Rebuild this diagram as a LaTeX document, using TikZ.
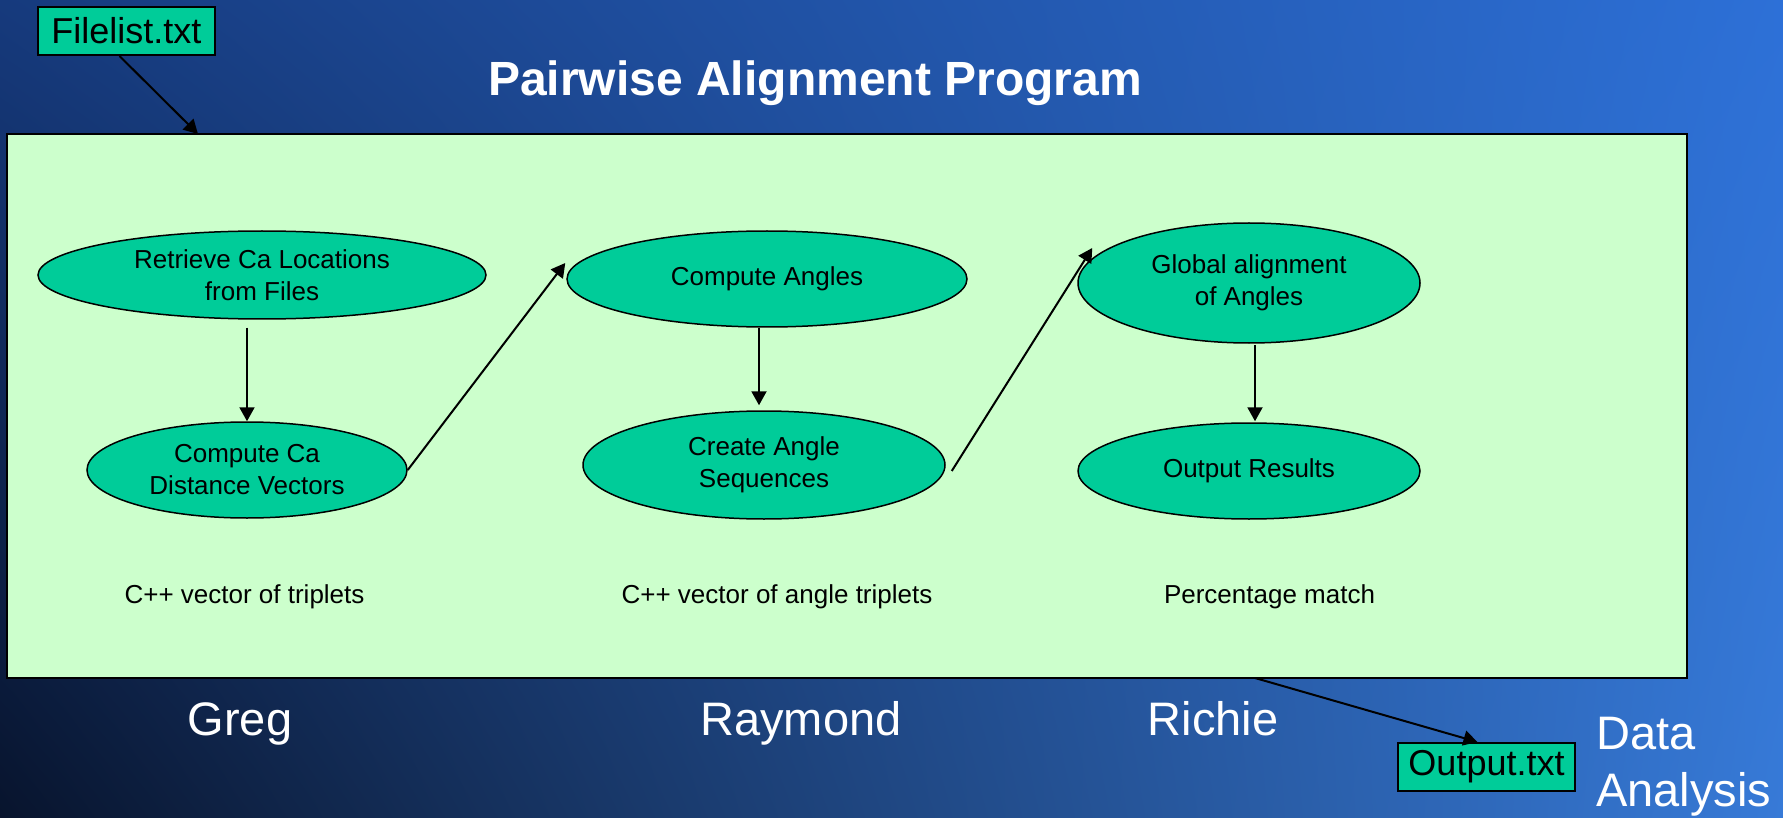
\documentclass[tikz,border=0pt]{standalone}
\usepackage{fontspec}
\setmainfont{Liberation Sans}
\usetikzlibrary{arrows.meta,shapes.geometric,calc,shadings}
\definecolor{nodegreen}{HTML}{00CC99}
\definecolor{panelgreen}{HTML}{CCFFCC}
\definecolor{bgUL}{RGB}{22,58,125}
\definecolor{bgUR}{RGB}{45,112,215}
\definecolor{bgLL}{RGB}{8,20,45}
\definecolor{bgLR}{RGB}{55,122,215}
\begin{document}
\begin{tikzpicture}[x=1pt,y=-1pt,
  proc/.style={ellipse,draw=black,line width=1.5pt,fill=nodegreen,inner sep=0pt,align=center,font=\fontsize{26}{32}\selectfont},
  filebox/.style={rectangle,draw=black,line width=2pt,fill=nodegreen,inner sep=0pt,minimum width=177,minimum height=48,font=\fontsize{36}{40}\selectfont},
  arr/.style={line width=2pt,-{Triangle[length=14pt,width=15pt]}},
  smalllabel/.style={anchor=base,font=\fontsize{26}{32}\selectfont},
  person/.style={anchor=base,text=white,font=\fontsize{47}{57}\selectfont}
]
\useasboundingbox (0,0) rectangle (1783,818);
\shade[upper left=bgUL,upper right=bgUR,lower left=bgLL,lower right=bgLR] (0,0) rectangle (1783,818);

% title
\node[anchor=base,text=white,font=\fontsize{48}{56}\selectfont\bfseries] (title) at (815,96) {Pairwise Alignment Program};

% main panel
\node[rectangle,draw=black,line width=2.5pt,fill=panelgreen,inner sep=0pt,minimum width=1680,minimum height=544] (panel) at (847,406) {};

% files
\node[filebox] (fl) at (126.5,31) {Filelist.txt};
\node[filebox] (out) at (1486.5,767) {Output.txt};

% process ellipses
\node[proc,minimum width=448,minimum height=88] (e1) at (262,275) {Retrieve Ca Locations\\from Files};
\node[proc,minimum width=320,minimum height=96] (e2) at (247,470) {Compute Ca\\Distance Vectors};
\node[proc,minimum width=400,minimum height=96] (e3) at (767,279) {Compute Angles};
\node[proc,minimum width=362,minimum height=108] (e4) at (764,465) {Create Angle\\Sequences};
\node[proc,minimum width=342,minimum height=120] (e5) at (1249,283) {Global alignment\\of Angles};
\node[proc,minimum width=342,minimum height=96] (e6) at (1249,471) {Output Results};

% data labels
\node[smalllabel] (l1) at (244.5,603) {C++ vector of triplets};
\node[smalllabel] (l2) at (777,603) {C++ vector of angle triplets};
\node[smalllabel] (l3) at (1269.5,603) {Percentage match};

% people
\node[person] (greg) at (240,735) {Greg};
\node[person] (raymond) at (801,735) {Raymond};
\node[person] (richie) at (1213,735) {Richie};
\node[anchor=west,align=left,text=white,font=\fontsize{47}{57}\selectfont,inner sep=0pt] (da) at (1596,767) {Data\\Analysis};

% connector end points
\coordinate (flin) at (198,134);
\coordinate (panelout) at (1255,678);

% connectors
\draw[arr] ($(fl.south)+(-7,0)$) -- (flin);
\draw[arr] ($(e2.north |- e1.south)+(0,8)$) -- (e2.north);
\draw[arr] (e2.east) -- ($(e3.west)+(-1,-16)$);
\draw[arr] ($(e3.south)+(-8,0)$) -- ($(e4.north)+(-5,-5)$);
\draw[arr] ($(e4.east)+(6,6)$) -- ($(e5.west)+(15,-35)$);
\draw[arr] ($(e5.south)+(6,1)$) -- ($(e6.north)+(6,-1)$);
\draw[arr] (panelout) -- ($(out.north)+(-9,0)$);
\end{tikzpicture}
\end{document}
